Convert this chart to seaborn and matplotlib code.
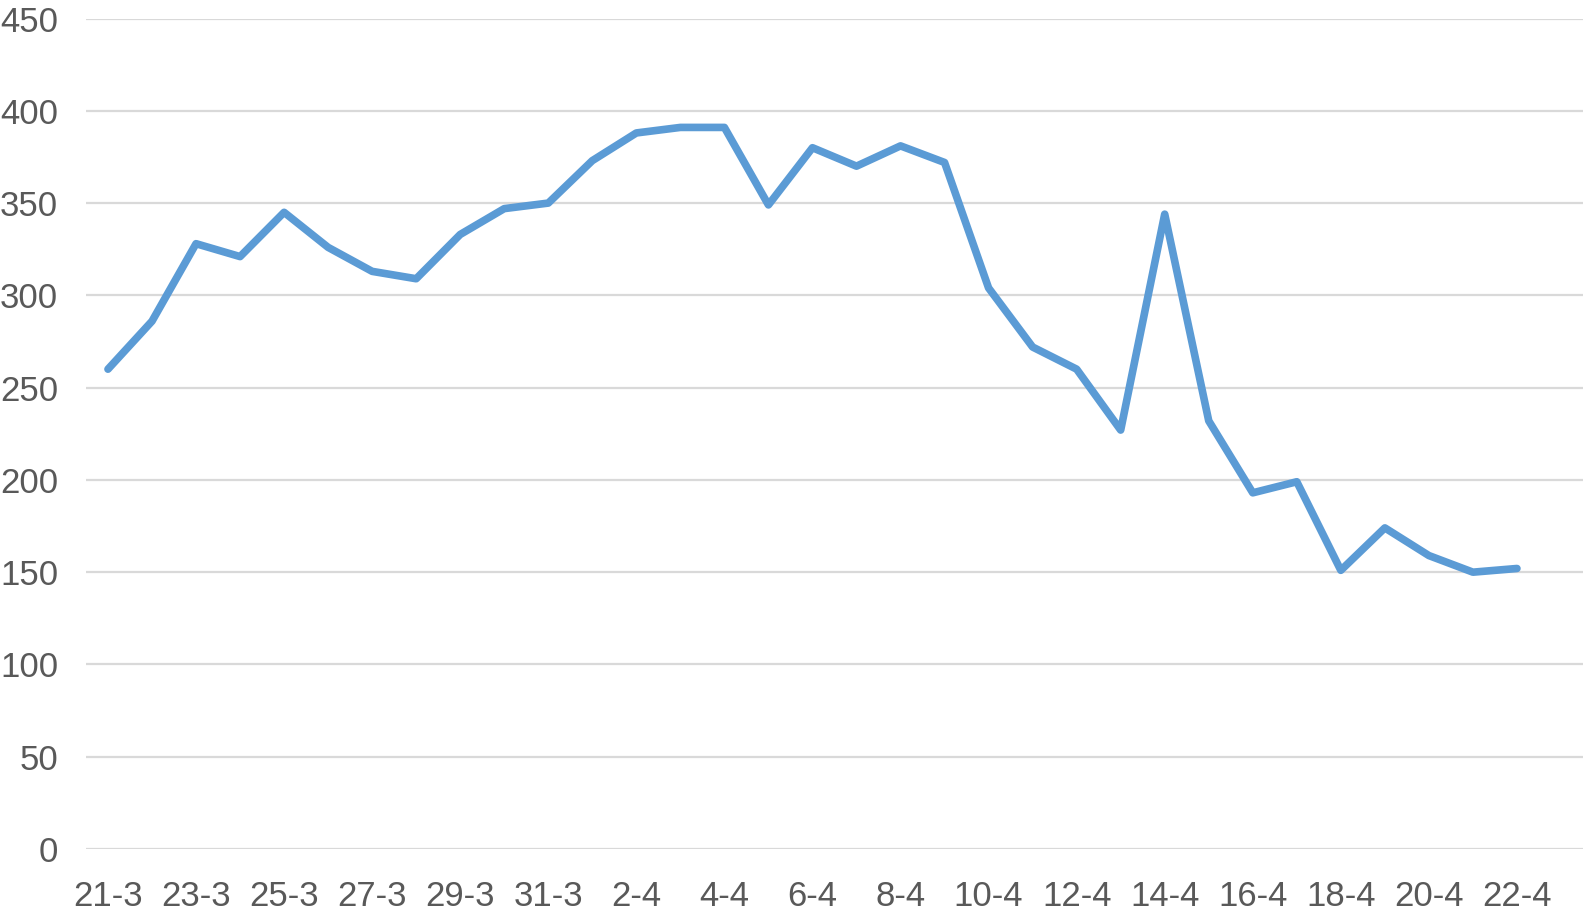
import pandas as pd
import matplotlib.pyplot as plt
import seaborn as sns

# ==========================
# Data
# ==========================
dates = [
    "21-3", "22-3", "23-3", "24-3", "25-3", "26-3", "27-3", "28-3", "29-3", "30-3", "31-3",
    "1-4", "2-4", "3-4", "4-4", "5-4", "6-4", "7-4", "8-4", "9-4", "10-4",
    "11-4", "12-4", "13-4", "14-4", "15-4", "16-4", "17-4", "18-4", "19-4", "20-4",
    "21-4", "22-4",
]
values = [
    260, 286, 328, 321, 345, 326, 313, 309, 333, 347, 350,
    373, 388, 391, 391, 349, 380, 370, 381, 372, 304,
    272, 260, 227, 344, 232, 193, 199, 151, 174, 159,
    150, 152,
]
y_ticks = [0, 50, 100, 150, 200, 250, 300, 350, 400, 450]

df = pd.DataFrame({"date": dates, "value": values})
df["pos"] = range(len(df))

# ==========================
# Plot
# ==========================
sns.set_style("white")
plt.rcParams["font.family"] = ["Liberation Sans", "DejaVu Sans"]

fig = plt.figure(figsize=(15.83, 9.13), dpi=100)
ax = fig.add_axes([0.0543, 0.0701, 0.9457, 0.9096])

sns.lineplot(
    data=df,
    x="pos",
    y="value",
    color="#5B9BD5",
    linewidth=5.5,
    ax=ax,
)
ax.lines[0].set_solid_joinstyle("round")

# one empty slot on the right, as in the original
ax.set_xlim(-0.5, len(dates) + 0.5)
ax.set_ylim(0, 450)
ax.set_yticks(y_ticks)
ax.set_xticks(df["pos"][::2])
ax.set_xticklabels(df["date"][::2])

ax.grid(axis="y", color="#D9D9D9", linewidth=1.6)
ax.set_axisbelow(True)
for s in ax.spines.values():
    s.set_visible(False)

ax.tick_params(axis="both", length=0, labelsize=25, labelcolor="#595959")
ax.tick_params(axis="y", pad=20)
ax.tick_params(axis="x", pad=22)
ax.set_xlabel("")
ax.set_ylabel("")

fig.savefig("out.png", dpi=100)
